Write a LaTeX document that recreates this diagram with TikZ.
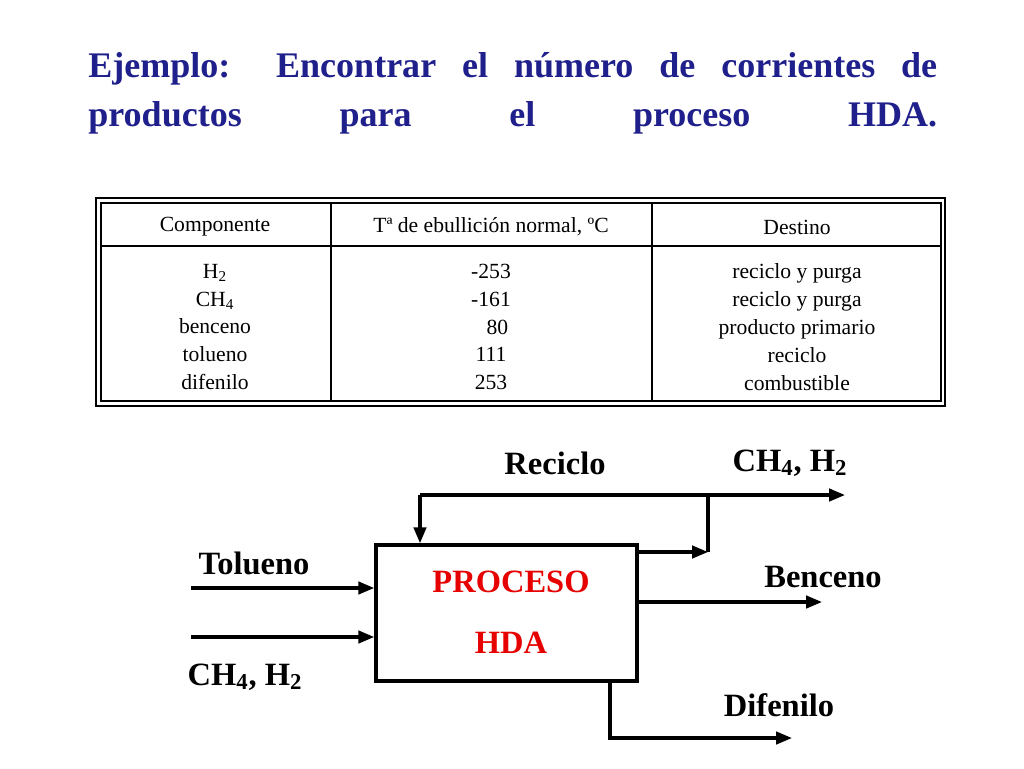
\documentclass[tikz,border=0pt]{standalone}
\usepackage{fontspec}
\setmainfont{Liberation Serif}
\usetikzlibrary{arrows.meta, positioning}
\definecolor{titleblue}{RGB}{32,32,140}
\definecolor{procred}{RGB}{230,0,0}

\begin{document}
\begin{tikzpicture}[x=0.02cm, y=-0.02cm,
    flow/.style={line width=1.8pt, -{Triangle[length=9pt,width=7pt]}},
    pipe/.style={line width=1.8pt},
    cell/.style={font=\fontsize{12.3}{15.9}\selectfont, align=center},
    lbl/.style={font=\fontsize{18.5}{20}\selectfont\bfseries}]
        \useasboundingbox (0,0) rectangle (1024,768);

        % Title
        \node[anchor=north west, inner sep=0pt, text=titleblue] (title) at (88,52)
            {\parbox{16.98cm}{\fontsize{20.5}{28}\selectfont\bfseries\hyphenpenalty=10000\parfillskip=0pt
             Ejemplo: Encontrar el número de corrientes de\linebreak productos para el proceso HDA.}};

        % Table frame
        \draw[line width=1pt] (96,198) rectangle (945,406);
        \draw[line width=0.8pt] (101,203) rectangle (941,401);
        \draw[line width=0.8pt] (101,246) -- (941,246);
        \draw[line width=0.8pt] (331,203) -- (331,401);
        \draw[line width=0.8pt] (652,203) -- (652,401);

        % Table cells
        \node[cell] (hcomp) at (215,227) {Componente};
        \node[cell] (htemp) at (491,227) {Tª de ebullición normal, ºC};
        \node[cell] (hdest) at (797,227) {Destino};
        \node[cell] (comp) at (215,327) {H\textsubscript{2}\\CH\textsubscript{4}\\benceno\\tolueno\\difenilo};
        \node[cell] (temp) at (491,327) {-253\\-161\\\hspace*{0.6em}80\\111\\253};
        \node[cell] (dest) at (797,327) {reciclo y purga\\reciclo y purga\\producto primario\\reciclo\\combustible};

        % Process box
        \node[draw, line width=2pt, minimum width=5.22cm, minimum height=2.72cm,
              inner sep=0pt] (proc) at (506.5,613) {};
        \node[lbl, text=procred] (procA) at (511,582) {PROCESO};
        \node[lbl, text=procred] (procB) at (511,643) {HDA};

        % Points
        \coordinate (tolin) at (191,588);
        \coordinate (gasin) at (191,637);
        \coordinate (recA) at (420,495);
        \coordinate (recB) at (708,495);
        \coordinate (purge) at (845,495);
        \coordinate (split) at (708,552);
        \coordinate (benout) at (822,602);
        \coordinate (difA) at (610,738);
        \coordinate (difout) at (792,738);

        % Streams
        \draw[flow] (tolin) -- (tolin -| proc.west);
        \draw[flow] (gasin) -- (gasin -| proc.west);
        \draw[flow] (proc.east |- split) -- (split);
        \draw[pipe] (split) -- (recB);
        \draw[flow] (recA) -- (recA |- proc.north);
        \draw[flow] (recA) -- (purge);
        \draw[flow] (proc.east |- benout) -- (benout);
        \draw[flow] (difA |- proc.south) -- (difA) -- (difout);

        % Stream labels
        \node[lbl] (tollbl) at (254,563) {Tolueno};
        \node[lbl] (gaslbl) at (245,677) {CH\textsubscript{4}, H\textsubscript{2}};
        \node[lbl] (reclbl) at (555,463) {Reciclo};
        \node[lbl] (purlbl) at (790,463) {CH\textsubscript{4}, H\textsubscript{2}};
        \node[lbl] (benlbl) at (823,577) {Benceno};
        \node[lbl] (diflbl) at (779,705) {Difenilo};
\end{tikzpicture}
\end{document}
